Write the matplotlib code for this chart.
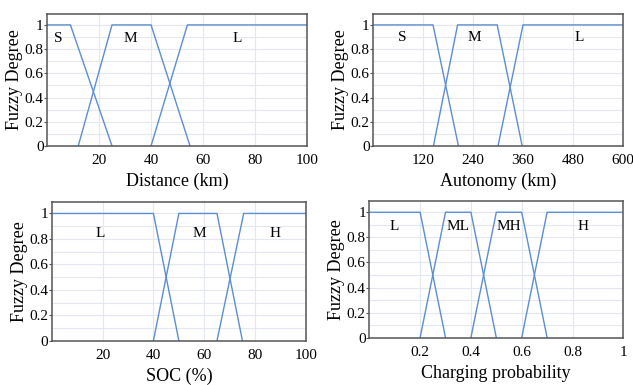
import matplotlib.pyplot as plt
import numpy as np

# trapezoid breakpoints [a, b, c, d] of each fuzzy set
distance_names = ["S", "M", "L"]
distance_sets = [[0, 0, 9, 25], [12, 25, 40, 55], [40, 54, 100, 100]]
distance_label_x = [4.5, 32, 73]

autonomy_names = ["S", "M", "L"]
autonomy_sets = [[0, 0, 144, 205], [145, 203, 298, 358], [300, 360, 600, 600]]
autonomy_label_x = [70, 244, 495]

soc_names = ["L", "M", "H"]
soc_sets = [[0, 0, 40, 50], [40, 50, 65, 75], [65, 75.5, 100, 100]]
soc_label_x = [19, 58, 88]

charge_names = ["L", "ML", "MH", "H"]
charge_sets = [[0, 0, 0.2, 0.3], [0.2, 0.3, 0.4, 0.5], [0.4, 0.5, 0.6, 0.7], [0.6, 0.7, 1, 1]]
charge_label_x = [0.1, 0.35, 0.55, 0.84]

y_ticks = [0, 0.2, 0.4, 0.6, 0.8, 1]

plt.rcParams["font.family"] = ["Liberation Serif", "DejaVu Serif"]

LINE = "#5b8ed2"
GRID = "#e3e8f0"
SPINE = "#555555"


def draw(ax, sets, names, label_x, xlim, xticks, xticklabels, xlabel, label_y):
    for (a, b, c, d) in sets:
        xs = [a, b, c, d]
        ys = [0 if a < b else 1, 1, 1, 0 if c < d else 1]
        ax.plot(xs, ys, color=LINE, linewidth=1.0, solid_joinstyle="miter")
    for name, lx in zip(names, label_x):
        ax.text(lx, label_y, name, ha="center", va="center", fontsize=11)
    ax.set_xlim(*xlim)
    ax.set_ylim(0, 1.09)
    ax.set_xticks(xticks)
    ax.set_xticklabels(xticklabels, fontsize=11)
    ax.set_yticks(y_ticks)
    ax.set_yticklabels([f"{v:g}" for v in y_ticks], fontsize=11)
    ax.set_yticks(np.arange(0.1, 1.1, 0.2), minor=True)
    ax.tick_params(axis="x", length=0, pad=6)
    ax.tick_params(axis="y", which="major", length=2, width=0.8, pad=0.5, color=SPINE)
    ax.tick_params(axis="y", which="minor", length=0)
    ax.grid(True, which="major", color=GRID, linewidth=0.8)
    ax.grid(True, which="minor", axis="y", color=GRID, linewidth=0.8)
    ax.set_axisbelow(True)
    for s in ax.spines.values():
        s.set_color(SPINE)
        s.set_linewidth(1.1)
    ax.set_xlabel(xlabel, fontsize=13, labelpad=4)
    ax.set_ylabel("Fuzzy Degree", fontsize=13, labelpad=1)


fig = plt.figure(figsize=(6.33, 3.85), dpi=100)
ax1 = fig.add_axes([0.0743, 0.6208, 0.4107, 0.3428])
ax2 = fig.add_axes([0.5893, 0.6208, 0.3949, 0.3428])
ax3 = fig.add_axes([0.0817, 0.1151, 0.4017, 0.3602])
ax4 = fig.add_axes([0.5834, 0.1229, 0.4013, 0.3551])

draw(ax1, distance_sets, distance_names, distance_label_x, (0, 100),
     [20, 40, 60, 80, 100], ["20", "40", "60", "80", "100"], "Distance (km)", 0.89)
draw(ax2, autonomy_sets, autonomy_names, autonomy_label_x, (0, 600),
     [120, 240, 360, 480, 600], ["120", "240", "360", "480", "600"], "Autonomy (km)", 0.90)
draw(ax3, soc_sets, soc_names, soc_label_x, (0, 100),
     [20, 40, 60, 80, 100], ["20", "40", "60", "80", "100"], "SOC (%)", 0.845)
draw(ax4, charge_sets, charge_names, charge_label_x, (0, 1),
     [0.2, 0.4, 0.6, 0.8, 1], ["0.2", "0.4", "0.6", "0.8", "1"], "Charging probability", 0.89)

fig.savefig("out.png", dpi=100)
